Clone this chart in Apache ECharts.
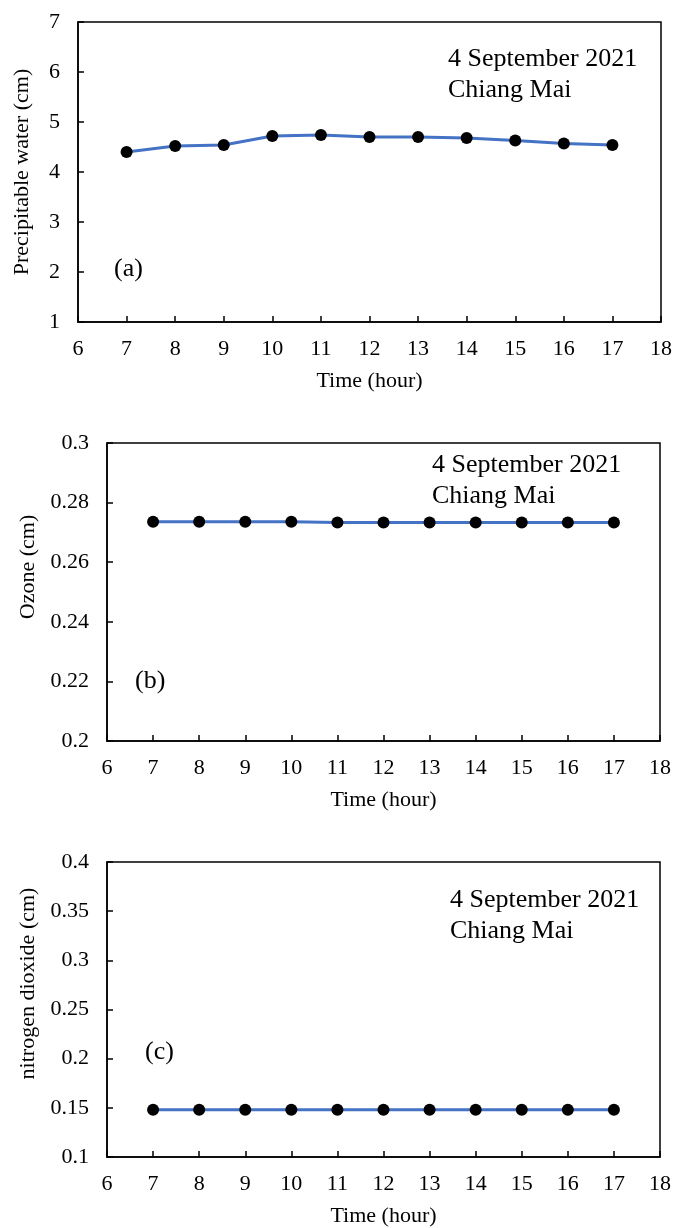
<!DOCTYPE html>
<html>
<head>
<meta charset="utf-8">
<script src="https://cdn.jsdelivr.net/npm/echarts@6/dist/echarts.min.js"></script>
<style>
  html, body { margin: 0; padding: 0; background: #fff; }
  #chart { width: 675px; height: 1228px; }
</style>
</head>
<body>
<div id="chart"></div>
<script>
// Hourly column amounts, 4 September 2021, Chiang Mai
const hours = [7, 8, 9, 10, 11, 12, 13, 14, 15, 16, 17];
const precipitableWater = [4.40, 4.52, 4.54, 4.72, 4.74, 4.70, 4.70, 4.68, 4.63, 4.57, 4.54];
const ozone = [0.2736, 0.2736, 0.2736, 0.2736, 0.2733, 0.2733, 0.2733, 0.2733, 0.2733, 0.2733, 0.2733];
const nitrogenDioxide = [0.148, 0.148, 0.148, 0.148, 0.148, 0.148, 0.148, 0.148, 0.148, 0.148, 0.148];

// Axis ranges (first tick, last tick, step)
const xTicks = [6, 18, 1];
const yTicksA = [1, 7, 1];
const yTicksB = [0.2, 0.3, 0.02];
const yTicksC = [0.1, 0.4, 0.05];

const panelNames = ['Precipitable water (cm)', 'Ozone (cm)', 'nitrogen dioxide (cm)'];
const panelTags = ['(a)', '(b)', '(c)'];
const dateText = '4 September 2021';
const placeText = 'Chiang Mai';

const FONT = '"Liberation Serif", "Times New Roman", serif';
const BLACK = '#000';

const grids = [
  { left: 78, top: 22, width: 583, height: 300 },
  { left: 107, top: 443, width: 553, height: 298 },
  { left: 107, top: 862, width: 553, height: 296 }
];

function xAxisFor(i) {
  return {
    gridIndex: i, type: 'value', min: xTicks[0], max: xTicks[1], interval: xTicks[2],
    name: 'Time (hour)', nameLocation: 'middle', nameGap: 48,
    nameTextStyle: { fontFamily: FONT, fontSize: 22, color: BLACK },
    axisLine: { show: true, onZero: false, lineStyle: { color: BLACK, width: 1.5 } },
    axisTick: { show: true, inside: true, length: 6, lineStyle: { color: BLACK, width: 1.5 } },
    axisLabel: { fontFamily: FONT, fontSize: 22, color: BLACK, margin: 16 },
    splitLine: { show: false }
  };
}

function yAxisFor(i, ticks, gap, shift) {
  return {
    gridIndex: i, type: 'value', min: ticks[0], max: ticks[1], interval: ticks[2],
    name: panelNames[i], nameLocation: 'middle', nameGap: gap,
    nameTextStyle: { fontFamily: FONT, fontSize: 22, color: BLACK, padding: [0, 0, 0, shift] },
    axisLine: { show: true, onZero: false, lineStyle: { color: BLACK, width: 1.5 } },
    axisTick: { show: true, inside: true, length: 6, lineStyle: { color: BLACK, width: 1.5 } },
    axisLabel: { fontFamily: FONT, fontSize: 22, color: BLACK, margin: 18 },
    splitLine: { show: false }
  };
}

function seriesFor(i, values) {
  return {
    type: 'line', xAxisIndex: i, yAxisIndex: i,
    data: hours.map((h, k) => [h, values[k]]),
    symbol: 'circle', symbolSize: 12,
    itemStyle: { color: BLACK },
    lineStyle: { color: '#4472C4', width: 3 },
    z: 3
  };
}

// Date / place note and panel tag inside each plot
function notes(noteLeft, noteTop, tagLeft, tagTop, tag) {
  return [
    { type: 'text', left: noteLeft, top: noteTop,
      style: { text: dateText + '\n' + placeText, font: '26px ' + FONT, fill: BLACK, lineHeight: 31 } },
    { type: 'text', left: tagLeft, top: tagTop,
      style: { text: tag, font: '26px ' + FONT, fill: BLACK } }
  ];
}

const chart = echarts.init(document.getElementById('chart'), null, { renderer: 'canvas' });
chart.setOption({
  backgroundColor: '#fff',
  animation: false,
  grid: grids.map(g => Object.assign({ show: true, borderColor: BLACK, borderWidth: 1.5, backgroundColor: 'transparent' }, g)),
  xAxis: [xAxisFor(0), xAxisFor(1), xAxisFor(2)],
  yAxis: [
    yAxisFor(0, yTicksA, 45, 0),
    yAxisFor(1, yTicksB, 62, 50),
    yAxisFor(2, yTicksC, 64, 52)
  ],
  series: [
    seriesFor(0, precipitableWater),
    seriesFor(1, ozone),
    seriesFor(2, nitrogenDioxide)
  ],
  graphic: [].concat(
    notes(448, 44, 114, 256, panelTags[0]),
    notes(432, 450, 135, 668, panelTags[1]),
    notes(450, 885, 145, 1039, panelTags[2])
  )
});
</script>
</body>
</html>
